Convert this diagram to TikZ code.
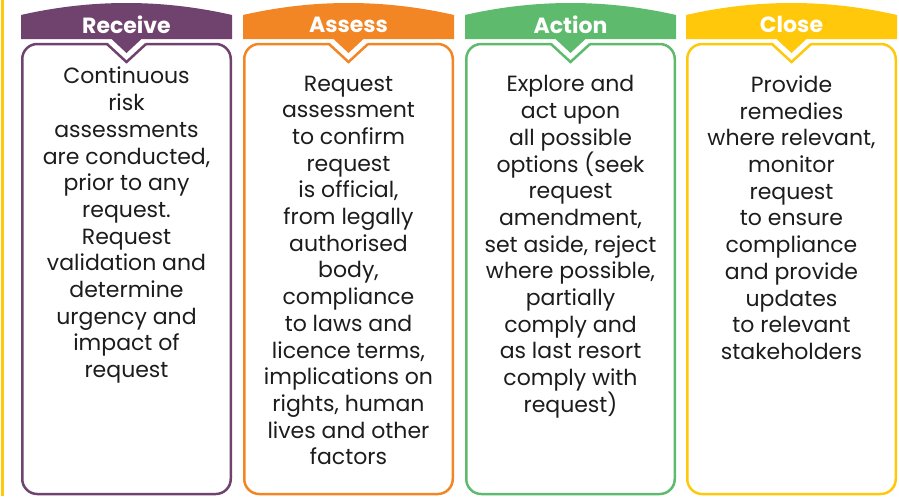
\documentclass[tikz,border=0pt]{standalone}
\usepackage{fontspec}
\setmainfont{Poppins}
\definecolor{cpurple}{RGB}{112,66,110}
\definecolor{corange}{RGB}{242,133,36}
\definecolor{cgreen}{RGB}{94,186,108}
\definecolor{cyellow}{RGB}{255,200,10}
\definecolor{ctext}{RGB}{28,28,28}
\tikzset{
  bodytext/.style={text=ctext, align=center, inner sep=0pt, anchor=north,
    font=\fontsize{22}{26.7}\selectfont},
  titletext/.style={text=white, inner sep=0pt,
    font=\fontsize{22}{26}\selectfont\bfseries},
  boxline/.style={line width=2.5pt},
}
% #1 left x, #2 colour, #3 title, #4 name
\newcommand\stagecol[4]{%
  \pgfmathsetmacro\Lx{#1}%
  \pgfmathsetmacro\Rx{#1+211}%
  \pgfmathsetmacro\Cx{#1+105.5}%
  \draw[boxline,#2,rounded corners=15pt] (\Lx+1.25,44) rectangle (\Rx-1.25,494);
  \fill[white] (\Cx-19,40.5) rectangle (\Cx+19,47.5);
  \draw[boxline,#2,line join=miter] (\Cx-19.5,44) -- (\Cx,62) -- (\Cx+19.5,44);
  \fill[#2] (\Lx,39) -- (\Lx,15) .. controls (\Lx+70,-1) and (\Lx+141,-1) .. (\Rx,15)
     -- (\Rx,39) -- (\Cx+15,39) -- (\Cx,53) -- (\Cx-15,39) -- cycle;
  \node[titletext] (#4) at (\Cx,24.5) {#3};
}
\begin{document}
\begin{tikzpicture}[x=1pt,y=-1pt]
\useasboundingbox (0,0) rectangle (899,496);
\fill[cyellow] (1.2,0) rectangle (3.8,496);
\stagecol{21}{cpurple}{Receive}{receive}
\stagecol{243}{corange}{Assess}{assess}
\stagecol{465}{cgreen}{Action}{action}
\stagecol{686}{cyellow}{Close}{close}
\node[bodytext] (receivetext) at (126.5,67) {Continuous\\risk\\assessments\\are conducted,\\prior to any\\request.\\Request\\validation and\\determine\\urgency and\\impact of\\request};
\node[bodytext] (assesstext) at (348.5,75.5) {Request\\assessment\\to confirm\\request\\is official,\\from legally\\authorised\\body,\\compliance\\to laws and\\licence terms,\\implications on\\rights, human\\lives and other\\factors};
\node[bodytext] (actiontext) at (570.5,75.5) {Explore and\\act upon\\all possible\\options (seek\\request\\amendment,\\set aside, reject\\where possible,\\partially\\comply and\\as last resort\\comply with\\request)};
\node[bodytext] (closetext) at (791.5,75.5) {Provide\\remedies\\where relevant,\\monitor\\request\\to ensure\\compliance\\and provide\\updates\\to relevant\\stakeholders};
\end{tikzpicture}
\end{document}
